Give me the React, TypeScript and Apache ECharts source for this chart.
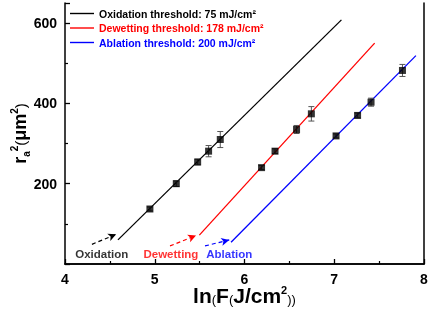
import React, { useEffect, useRef } from "react";
import * as echarts from "echarts";

const oxX = [4.946, 5.24, 5.478, 5.6, 5.73];
const oxY = [137, 200, 254, 281, 310];
const oxErr = [5, 7, 7, 14, 20];

const deX = [6.19, 6.34, 6.58, 6.745];
const deY = [240, 281, 335, 374];
const deErr = [5, 6, 10, 18];

const abX = [7.02, 7.26, 7.41, 7.76];
const abY = [319, 370, 403, 482];
const abErr = [5, 6, 10, 15];

const oxFitX = [4.59, 7.08];
const oxFitY = [60, 608];
const deFitX = [5.497, 7.45];
const deFitY = [72, 550];
const abFitX = [5.85, 7.91];
const abFitY = [54, 519];

const oxArrow = [[4.3, 49], [4.57, 74]];
const deArrow = [[5.17, 45], [5.46, 71]];
const abArrow = [[5.56, 45], [5.83, 60]];

const legendNames = [
  "Oxidation threshold: 75 mJ/cm²",
  "Dewetting threshold: 178 mJ/cm²",
  "Ablation threshold: 200 mJ/cm²",
];
const regionLabels = ["Oxidation", "Dewetting", "Ablation"];
const regionLabelX = [4.41, 5.18, 5.83];
const regionLabelY = [26, 26, 26];

const colors = ["#000000", "#ff0000", "#0000ff"];
const FONT = "Arial, 'Liberation Sans', sans-serif";

function zip(xs: number[], ys: number[]) {
  return xs.map((x, i) => [x, ys[i]]);
}

export default function App() {
  const ref = useRef<HTMLDivElement>(null);
  useEffect(() => {
    if (!ref.current) return;
    const chart = echarts.init(ref.current, null, { renderer: "svg" });
    const errData = [
      ...oxX.map((x, i) => [x, oxY[i], oxErr[i]]),
      ...deX.map((x, i) => [x, deY[i], deErr[i]]),
      ...abX.map((x, i) => [x, abY[i], abErr[i]]),
    ];
    const fits = [
      zip(oxFitX, oxFitY),
      zip(deFitX, deFitY),
      zip(abFitX, abFitY),
    ];
    const arrows = [oxArrow, deArrow, abArrow];
    const series: any[] = [];
    fits.forEach((d, i) => {
      series.push({
        name: legendNames[i],
        type: "line",
        data: d,
        symbol: "none",
        lineStyle: { color: colors[i], width: 1.3 },
        itemStyle: { color: colors[i] },
        z: 2,
      });
    });
    arrows.forEach((a, i) => {
      series.push({
        type: "line",
        data: [],
        markLine: {
          silent: true,
          symbol: ["none", "arrow"],
          symbolSize: [6, 8],
          label: { show: false },
          lineStyle: { color: colors[i], type: [4, 3], width: 1.2 },
          data: [[{ coord: a[0] }, { coord: a[1] }]],
        },
      });
    });
    series.push({
      type: "custom",
      data: errData,
      renderItem: (params: any, api: any) => {
        const x = api.value(0);
        const y = api.value(1);
        const e = api.value(2);
        const lo = api.coord([x, y - e]);
        const hi = api.coord([x, y + e]);
        const st = { stroke: "#555", lineWidth: 1 };
        return {
          type: "group",
          children: [
            { type: "line", shape: { x1: lo[0], y1: lo[1], x2: hi[0], y2: hi[1] }, style: st },
            { type: "line", shape: { x1: lo[0] - 3, y1: lo[1], x2: lo[0] + 3, y2: lo[1] }, style: st },
            { type: "line", shape: { x1: hi[0] - 3, y1: hi[1], x2: hi[0] + 3, y2: hi[1] }, style: st },
          ],
        };
      },
      z: 3,
    });
    series.push({
      type: "scatter",
      data: [...zip(oxX, oxY), ...zip(deX, deY), ...zip(abX, abY)],
      symbol: "rect",
      symbolSize: 7,
      itemStyle: { color: "#000" },
      z: 4,
    });
    series.push({
      type: "scatter",
      data: regionLabels.map((t, i) => ({
        value: [regionLabelX[i], regionLabelY[i]],
        label: {
          show: true,
          position: "inside",
          formatter: t,
          color: colors[i],
          fontFamily: FONT,
          fontWeight: "bold",
          fontSize: 11.5,
        },
      })),
      symbolSize: 0,
      silent: true,
      z: 5,
    });

    const frameAxis = {
      axisLine: { show: true, lineStyle: { color: "#000", width: 1.5 } },
      axisTick: { show: false },
      axisLabel: { show: false },
      splitLine: { show: false },
    };

    chart.setOption({
      animation: false,
      grid: {
        left: 65,
        top: 3,
        right: 5,
        bottom: 46,
        outerBoundsMode: "none",
        containLabel: false,
      },
      legend: {
        data: legendNames.map((n, i) => ({
          name: n,
          itemStyle: { color: colors[i] },
          textStyle: { color: colors[i] },
        })),
        left: 65,
        top: 3,
        orient: "vertical",
        itemGap: 3.5,
        itemWidth: 24,
        itemHeight: 12,
        icon: "path://M0,5.3 L24,5.3 L24,6.7 L0,6.7 Z",
        textStyle: { fontFamily: FONT, fontWeight: "bold", fontSize: 10.5 },
        selectedMode: false,
      },
      xAxis: [
        {
          type: "value",
          min: 4,
          max: 8,
          interval: 1,
          axisLine: { lineStyle: { color: "#000", width: 1.5 } },
          axisTick: { inside: true, length: 5, lineStyle: { color: "#000", width: 1.3 } },
          minorTick: { show: true, splitNumber: 2, length: 3, lineStyle: { color: "#000", width: 1.2 } },
          splitLine: { show: false },
          axisLabel: { color: "#000", fontFamily: FONT, fontWeight: "bold", fontSize: 14, margin: 8 },
          name: "{b|ln}{s|(}{b|F}{s|(}{b|J/cm}{sup|2}{s|))}",
          nameLocation: "middle",
          nameGap: 20,
          nameMoveOverlap: false,
          nameTextStyle: {
            color: "#000",
            fontFamily: FONT,
            rich: {
              b: { fontSize: 21, fontWeight: "bold", fontFamily: FONT, color: "#000", lineHeight: 22 },
              s: { fontSize: 13, fontFamily: FONT, color: "#000", lineHeight: 22, verticalAlign: "bottom" },
              sup: { fontSize: 11, fontWeight: "bold", fontFamily: FONT, color: "#000", lineHeight: 22, verticalAlign: "top" },
            },
          },
        },
        { type: "value", position: "top", min: 4, max: 8, ...frameAxis },
      ],
      yAxis: [
        {
          type: "value",
          min: 0,
          max: 650,
          interval: 200,
          axisLine: { show: true, lineStyle: { color: "#000", width: 1.5 } },
          axisTick: { inside: true, length: 5, lineStyle: { color: "#000", width: 1.3 } },
          minorTick: { show: true, splitNumber: 2, length: 3, lineStyle: { color: "#000", width: 1.2 } },
          splitLine: { show: false },
          axisLabel: {
            color: "#000",
            fontFamily: FONT,
            fontWeight: "bold",
            fontSize: 14,
            margin: 8,
            showMaxLabel: false,
            formatter: (v: number) => (v === 0 ? "" : String(v)),
          },
          name: "{b|r}{sub|a}{sup|2}{p|(}{b|μm}{sup|2}{p|)}",
          nameLocation: "middle",
          nameGap: 34,
          nameMoveOverlap: false,
          nameRotate: 90,
          nameTextStyle: {
            color: "#000",
            fontFamily: FONT,
            rich: {
              b: { fontSize: 18, fontWeight: "bold", fontFamily: FONT, color: "#000", lineHeight: 22 },
              sub: { fontSize: 10, fontWeight: "bold", fontFamily: FONT, color: "#000", lineHeight: 22, verticalAlign: "bottom" },
              sup: { fontSize: 10, fontWeight: "bold", fontFamily: FONT, color: "#000", lineHeight: 22, verticalAlign: "top" },
              p: { fontSize: 15, fontFamily: FONT, color: "#000", lineHeight: 22 },
            },
          },
        },
        { type: "value", position: "right", min: 0, max: 650, ...frameAxis },
      ],
      series,
    });
    return () => chart.dispose();
  }, []);
  return (
    <div
      ref={ref}
      style={{ position: "fixed", left: 0, top: 0, width: 429, height: 310 }}
    />
  );
}
